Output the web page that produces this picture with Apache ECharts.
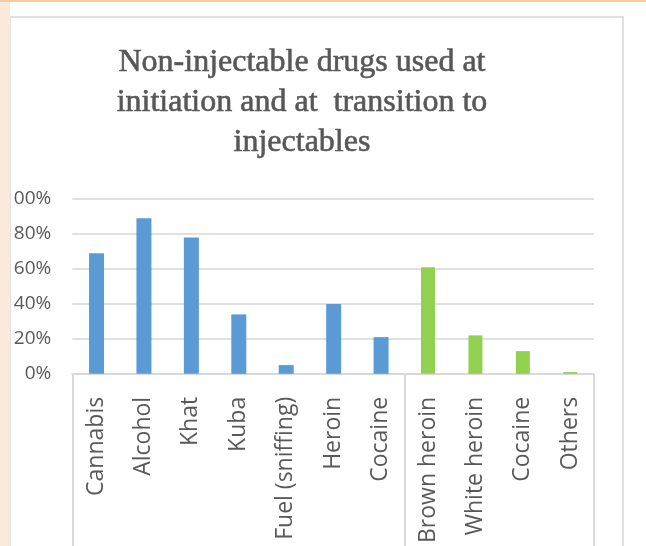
<!DOCTYPE html>
<html>
<head>
<meta charset="utf-8">
<script src="https://cdn.jsdelivr.net/npm/echarts@6/dist/echarts.min.js"></script>
<style>
  html, body { margin: 0; padding: 0; background: #ffffff; }
  #chart { width: 646px; height: 546px; }
</style>
</head>
<body>
<div id="chart"></div>
<script>
// Drug categories: first seven at initiation, last four at transition to injectables
const categories = ['Cannabis', 'Alcohol', 'Khat', 'Kuba', 'Fuel (sniffing)', 'Heroin', 'Cocaine',
                    'Brown heroin', 'White heroin', 'Cocaine', 'Others'];
// Share of respondents (%)
const initiationValues = [69, 89, 78, 34, 5, 40, 21];
const transitionValues = [61, 22, 13, 1];
const yTicks = [0, 20, 40, 60, 80, 100];

const initiationData = initiationValues.concat(transitionValues.map(() => '-'));
const transitionData = initiationValues.map(() => '-').concat(transitionValues);
// Group boundaries on the category axis (start of each group)
const groupStarts = [0, initiationValues.length];

const chart = echarts.init(document.getElementById('chart'), null, { renderer: 'canvas' });

const option = {
  backgroundColor: '#ffffff',
  animation: false,
  title: {
    text: 'Non-injectable drugs used at\ninitiation and at  transition to\ninjectables',
    left: 302,
    top: 43,
    padding: 0,
    textAlign: 'center',
    textStyle: {
      fontFamily: 'Liberation Serif',
      fontSize: 32,
      fontWeight: 'normal',
      color: '#575757',
      textBorderColor: '#575757',
      textBorderWidth: 0.6,
      lineHeight: 40
    }
  },
  grid: { left: 70, right: 52, top: 199, bottom: 172 },
  xAxis: {
    type: 'category',
    data: categories,
    axisLine: { show: true, lineStyle: { color: '#d9d9d9', width: 2 } },
    axisTick: {
      show: true,
      interval: (idx) => groupStarts.indexOf(idx) !== -1,
      length: 200,
      lineStyle: { color: '#d9d9d9', width: 2 }
    },
    axisLabel: {
      interval: 0,
      rotate: 90,
      margin: 23,
      fontFamily: 'Open Sans',
      fontSize: 23,
      color: '#595959'
    }
  },
  yAxis: {
    type: 'value',
    min: 0,
    max: yTicks[yTicks.length - 1],
    interval: yTicks[1] - yTicks[0],
    axisLine: { show: false },
    axisTick: { show: false },
    axisLabel: {
      formatter: '{value}%',
      margin: 21,
      fontFamily: 'Open Sans',
      fontSize: 19,
      color: '#595959'
    },
    splitLine: { lineStyle: { color: '#e0e0e0', width: 2 } }
  },
  series: [
    {
      name: 'At initiation',
      type: 'bar',
      data: initiationData,
      barWidth: 15,
      barGap: '-100%',
      itemStyle: { color: '#5b9bd5' }
    },
    {
      name: 'At transition',
      type: 'bar',
      data: transitionData,
      barWidth: 14,
      barGap: '-100%',
      itemStyle: { color: '#92d050' }
    }
  ],
  graphic: [
    {
      type: 'rect',
      z: 100,
      shape: { x: 10, y: 17, width: 613, height: 560 },
      style: { fill: 'none', stroke: '#e0e0e0', lineWidth: 2 }
    },
    {
      type: 'rect',
      z: 101,
      shape: { x: 0, y: 0, width: 10, height: 546 },
      style: { fill: '#fbe9dc' }
    },
    {
      type: 'rect',
      z: 101,
      shape: { x: 0, y: 0, width: 646, height: 2 },
      style: { fill: '#f6cba3' }
    }
  ]
};

chart.setOption(option);
</script>
</body>
</html>
